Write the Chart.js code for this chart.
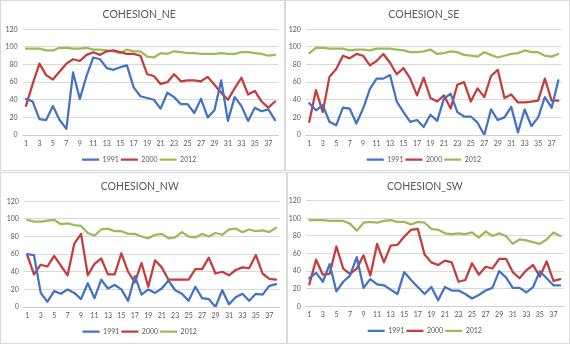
<!DOCTYPE html>
<html><head><meta charset="utf-8">
<script src="https://cdn.jsdelivr.net/npm/chart.js"></script>
<style>
html,body{margin:0;padding:0;background:#fff;}
body{width:570px;height:344px;position:relative;overflow:hidden;}
.frame{position:absolute;box-sizing:border-box;border:1px solid #D9D9D9;}
canvas{position:absolute;}
</style></head><body>
<div class="frame" style="left:0;top:0;width:285px;height:171px"></div>
<div class="frame" style="left:285px;top:0;width:285px;height:171px"></div>
<div class="frame" style="left:0;top:172px;width:288px;height:172px"></div>
<div class="frame" style="left:286px;top:172px;width:284px;height:172px"></div>
<canvas id="cNE" width="284" height="170" style="left:0;top:0"></canvas>
<canvas id="cSE" width="284" height="170" style="left:286px;top:0"></canvas>
<canvas id="cNW" width="288" height="170" style="left:0;top:172px"></canvas>
<canvas id="cSW" width="284" height="170" style="left:286px;top:172px"></canvas>
<script>
const categories = [1,2,3,4,5,6,7,8,9,10,11,12,13,14,15,16,17,18,19,20,21,22,23,24,25,26,27,28,29,30,31,32,33,34,35,36,37,38];
const seriesNames = ['1991','2000','2012'];
const yTicks = [0,20,40,60,80,100,120];

const ne1991 = [41,38,18,17,33,17,7,71,41,67,88,86,76,74,77,79,54,44,42,40,30,48,43,35,35,25,41,20,28,62,16,43,33,16,31,27,29,17];
const ne2000 = [33,58,81,68,63,72,81,86,84,91,94,91,95,96,94,92,92,90,69,67,58,60,69,61,62,62,61,66,57,48,40,53,65,46,50,38,31,38];
const ne2012 = [98,98,98,96,96,99,99,98,98,99,97,97,96,95,93,97,95,95,89,88,93,92,95,94,93,93,92,92,92,93,92,92,94,94,93,92,90,91];

const se1991 = [36,28,34,15,11,31,30,13,30,52,64,64,68,38,26,15,17,9,23,16,41,47,26,21,21,14,0,29,17,20,32,3,29,10,20,43,31,62];
const se2000 = [15,51,26,66,75,90,87,92,90,79,84,92,82,69,76,64,45,65,42,38,45,30,57,60,38,53,43,67,74,42,46,37,37,38,39,64,39,39];
const se2012 = [93,99,99,98,98,98,96,97,97,96,98,98,98,97,96,94,94,95,97,92,93,95,94,91,90,89,94,91,88,90,92,93,96,94,94,90,89,92];

const nw1991 = [60,59,16,6,18,15,20,16,9,27,10,31,21,25,20,7,35,14,20,16,21,30,19,15,7,23,10,9,0,19,3,11,15,7,15,14,24,26];
const nw2000 = [59,37,48,46,58,47,36,72,83,36,49,55,37,37,61,40,28,50,23,53,45,31,31,31,31,43,43,56,38,40,36,42,45,44,59,38,32,31];
const nw2012 = [99,97,97,98,99,94,95,93,92,84,81,88,89,86,86,83,83,80,78,82,83,78,79,85,80,79,83,80,84,82,88,89,85,88,86,87,85,90];

const sw1991 = [32,38,28,48,17,28,35,56,21,31,25,24,19,14,39,30,22,14,22,7,22,18,18,14,9,13,18,21,40,33,21,21,16,22,40,32,24,24];
const sw2000 = [25,53,36,37,68,43,37,43,58,35,71,50,69,70,79,87,88,59,50,47,52,50,28,30,49,36,45,43,54,54,39,32,41,47,34,51,29,31];
const sw2012 = [98,98,98,97,97,97,94,86,95,96,95,97,98,96,96,93,96,95,88,87,83,82,83,82,84,78,85,80,83,80,71,76,75,73,71,76,84,80];

const colors = ['#4472C4', '#C43C3C', '#9BBB59'];
const textColor = '#595959';
const fontFamily = 'Lato, "Liberation Sans", sans-serif';

function makeChart(id, title, series, geo) {
  new Chart(document.getElementById(id), {
    type: 'line',
    data: {
      labels: categories,
      datasets: series.map((d, i) => ({
        label: seriesNames[i],
        data: d,
        borderColor: colors[i],
        backgroundColor: colors[i],
        borderWidth: 2.25,
        pointRadius: 0,
        pointHoverRadius: 0,
        tension: 0,
        fill: false,
        borderJoinStyle: 'round',
        borderCapStyle: 'round'
      }))
    },
    options: {
      responsive: false,
      animation: false,
      devicePixelRatio: 1,
      layout: { padding: { left: 0, right: geo.padRight, top: 0, bottom: geo.padBottom } },
      plugins: {
        title: {
          display: true, text: title, color: textColor,
          font: { family: fontFamily, size: 10.5, weight: 'normal' },
          padding: { top: 8, bottom: geo.titleBottom }
        },
        legend: {
          position: 'bottom',
          maxHeight: 16,
          labels: {
            usePointStyle: true, pointStyle: 'line', pointStyleWidth: 17, boxHeight: 7,
            color: textColor, font: { family: fontFamily, size: 7 }, padding: 2
          }
        },
        tooltip: { enabled: false }
      },
      scales: {
        x: {
          type: 'category',
          offset: true,
          grid: { display: false, drawTicks: false },
          border: { display: true, color: '#D0D0D0', width: 1 },
          ticks: {
            autoSkip: false, maxRotation: 0, minRotation: 0, padding: 4.5,
            color: textColor, font: { family: fontFamily, size: 7 },
            callback: function (v, i) { return i % 2 === 0 ? this.getLabelForValue(v) : ''; }
          },
          afterFit: s => { s.height = 19; }
        },
        y: {
          min: 0, max: 120,
          afterBuildTicks: s => { s.ticks = yTicks.map(v => ({ value: v })); },
          grid: { color: '#D9D9D9', lineWidth: 1, drawTicks: false },
          border: { display: false },
          ticks: { padding: geo.yPad, color: textColor, font: { family: fontFamily, size: 7 } },
          afterFit: s => { s.width = geo.left; }
        }
      }
    }
  });
}

makeChart('cNE', 'COHESION_NE', [ne1991, ne2000, ne2012], { left: 22.6, padRight: 5.6, padBottom: 0, titleBottom: 8.7, yPad: 5 });
makeChart('cSE', 'COHESION_SE', [se1991, se2000, se2012], { left: 19.9, padRight: 8.3, padBottom: 0, titleBottom: 8.7, yPad: 5 });
makeChart('cNW', 'COHESION_NW', [nw1991, nw2000, nw2012], { left: 23.9, padRight: 8.6, padBottom: 0, titleBottom: 8.7, yPad: 5 });
makeChart('cSW', 'COHESION_SW', [sw1991, sw2000, sw2012], { left: 19.9, padRight: 6.4, padBottom: 0.6, titleBottom: 8.1, yPad: 5 });
</script>
</body></html>
